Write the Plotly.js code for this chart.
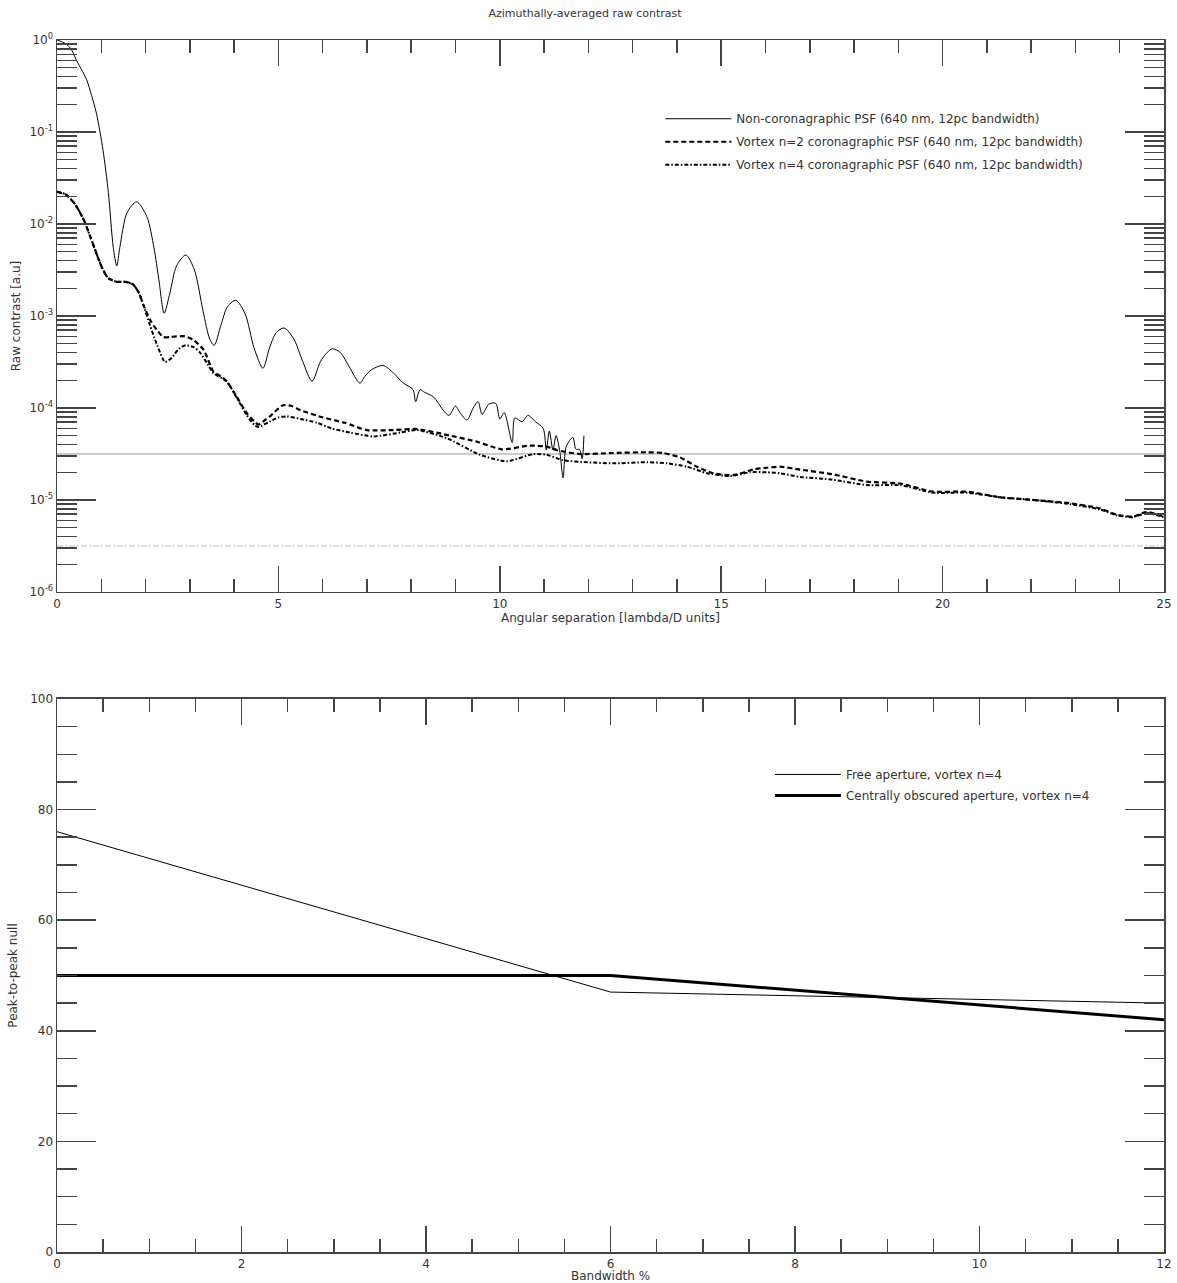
<!DOCTYPE html>
<html>
<head>
<meta charset="utf-8">
<script src="https://cdn.plot.ly/plotly-3.0.1.min.js"></script>
<style>html,body{margin:0;padding:0;background:#fff;}#chart{width:1177px;height:1283px;}</style>
</head>
<body>
<div id="chart"></div>
<script>
// ---- Top panel: azimuthally-averaged raw contrast ----
const psfX = [0,0.2,0.33,0.44,0.55,0.67,0.78,0.89,1.04,1.16,1.27,1.35,1.42,1.58,1.8,2.03,2.19,2.3,2.42,2.55,2.7,2.91,3.1,3.3,3.45,3.55,3.7,3.85,4.04,4.25,4.45,4.65,4.8,4.95,5.13,5.35,5.55,5.76,5.95,6.1,6.22,6.4,6.6,6.84,6.95,7.1,7.36,7.6,7.8,8.04,8.1,8.2,8.3,8.5,8.72,8.85,9.0,9.1,9.26,9.4,9.51,9.6,9.75,9.91,10.0,10.1,10.28,10.34,10.5,10.64,10.8,10.98,11.05,11.12,11.2,11.27,11.35,11.43,11.5,11.65,11.72,11.8,11.86,11.9];
const psfY = [1,0.91,0.78,0.60,0.48,0.37,0.25,0.16,0.063,0.022,5.6e-3,3.5e-3,5.6e-3,1.32e-2,1.74e-2,1.2e-2,5.5e-3,2.5e-3,1.07e-3,1.78e-3,3.5e-3,4.6e-3,3.2e-3,1.12e-3,5.6e-4,4.8e-4,7.9e-4,1.26e-3,1.48e-3,1.05e-3,4.5e-4,2.7e-4,4.5e-4,6.6e-4,7.4e-4,5.6e-4,3.2e-4,1.95e-4,3.2e-4,4.0e-4,4.4e-4,4.0e-4,2.8e-4,1.86e-4,2.2e-4,2.6e-4,2.9e-4,2.4e-4,1.9e-4,1.58e-4,1.17e-4,1.58e-4,1.48e-4,1.32e-4,9.5e-5,8.3e-5,1.05e-4,8.9e-5,7.4e-5,1.0e-4,1.17e-4,8.5e-5,1.1e-4,1.12e-4,7.6e-5,8.9e-5,4.2e-5,7.8e-5,7.1e-5,8.3e-5,7.1e-5,6.0e-5,3.5e-5,5.6e-5,3.5e-5,5.0e-5,3.5e-5,1.74e-5,3.8e-5,4.8e-5,3.55e-5,3.55e-5,2.8e-5,5.0e-5];

const v2X = [0,0.2,0.4,0.6,0.8,1.0,1.15,1.35,1.55,1.72,1.85,1.95,2.1,2.25,2.4,2.55,2.7,2.89,3.08,3.31,3.53,3.7,3.83,4.06,4.29,4.45,4.55,4.7,4.81,5.1,5.3,5.49,6.0,6.5,7.0,7.59,8.13,8.8,9.48,10.05,10.68,11.06,11.3,11.81,12.56,13.32,13.69,14.07,14.45,14.82,15.27,15.72,16.03,16.33,16.78,17.52,18.29,19.04,19.78,20.55,21.3,22.04,22.81,23.55,23.94,24.3,24.6,25];
const v2Y = [0.0224,0.0209,0.0166,0.0112,6.3e-3,3.5e-3,2.6e-3,2.35e-3,2.35e-3,2.2e-3,1.78e-3,1.32e-3,9.1e-4,7.1e-4,5.9e-4,5.9e-4,6.0e-4,6.0e-4,5.5e-4,4.3e-4,2.5e-4,2.2e-4,1.95e-4,1.32e-4,8.7e-5,7.2e-5,6.6e-5,7.4e-5,8.1e-5,1.07e-4,1.05e-4,9.5e-5,7.9e-5,6.9e-5,5.75e-5,5.75e-5,5.9e-5,5.1e-5,4.3e-5,3.55e-5,3.9e-5,3.8e-5,3.47e-5,3.16e-5,3.24e-5,3.3e-5,3.24e-5,2.9e-5,2.3e-5,1.95e-5,1.86e-5,2.14e-5,2.24e-5,2.3e-5,2.14e-5,1.9e-5,1.58e-5,1.51e-5,1.23e-5,1.23e-5,1.07e-5,1.0e-5,9.3e-6,8.1e-6,6.9e-6,6.6e-6,7.4e-6,6.6e-6];

const v4X = [0,0.2,0.4,0.6,0.8,1.0,1.15,1.35,1.55,1.72,1.85,1.95,2.1,2.25,2.44,2.6,2.75,2.91,3.08,3.23,3.4,3.53,3.83,4.06,4.29,4.45,4.55,4.8,5.0,5.19,5.5,5.87,6.2,6.62,7.14,7.75,8.13,8.8,9.55,10.16,10.75,11.06,11.43,11.97,12.56,13.32,13.78,14.23,14.68,15.2,15.65,16.03,16.33,16.78,17.52,18.29,19.04,19.78,20.55,21.3,22.04,22.81,23.55,23.94,24.3,24.6,25];
const v4Y = [0.0224,0.0209,0.0166,0.0112,6.3e-3,3.5e-3,2.6e-3,2.35e-3,2.35e-3,2.2e-3,1.78e-3,1.32e-3,7.9e-4,5.0e-4,3.16e-4,3.55e-4,4.4e-4,4.8e-4,4.6e-4,4.0e-4,3.0e-4,2.4e-4,1.95e-4,1.29e-4,8.3e-5,6.6e-5,6.2e-5,7.1e-5,7.9e-5,8.1e-5,7.6e-5,6.9e-5,6.0e-5,5.4e-5,4.9e-5,5.4e-5,5.75e-5,4.7e-5,3.1e-5,2.63e-5,3.16e-5,3.1e-5,2.7e-5,2.57e-5,2.5e-5,2.57e-5,2.5e-5,2.3e-5,1.95e-5,1.82e-5,2.0e-5,2.0e-5,1.95e-5,1.78e-5,1.66e-5,1.45e-5,1.45e-5,1.2e-5,1.2e-5,1.07e-5,1.0e-5,9.1e-6,7.9e-6,6.8e-6,6.5e-6,7.2e-6,6.5e-6];

const refRangeX = [0, 25];
const refLevelSolid = 3.16e-5;
const refLevelDotted = 3.16e-6;

const topNames = ["Non-coronagraphic PSF (640 nm, 12pc bandwidth)",
                  "Vortex n=2 coronagraphic PSF (640 nm, 12pc bandwidth)",
                  "Vortex n=4 coronagraphic PSF (640 nm, 12pc bandwidth)"];
const logExponents = [0,-1,-2,-3,-4,-5,-6];

// ---- Bottom panel: peak-to-peak null vs bandwidth ----
const freeX = [0, 4, 6, 12];
const freeY = [76, 56.6, 47, 45];
const obscX = [0, 6, 12];
const obscY = [50, 50, 42];
const bottomNames = ["Free aperture, vortex n=4", "Centrally obscured aperture, vortex n=4"];

// ticks
const majorVals = logExponents.map(e => Math.pow(10, e));
const majorText = logExponents.map(e => '10<sup>' + e + '</sup>');
const minorVals = [];
for (let e = -6; e < 0; e++) for (let m = 2; m <= 9; m++) minorVals.push(m * Math.pow(10, e));

const axCol = '#444';
const FONT = 'DejaVu Sans, sans-serif';

const traces = [
  {x: refRangeX, y: [refLevelSolid, refLevelSolid], xaxis:'x', yaxis:'y', mode:'lines', line:{color:'#999', width:1}, showlegend:false, hoverinfo:'skip'},
  {x: refRangeX, y: [refLevelDotted, refLevelDotted], xaxis:'x', yaxis:'y', mode:'lines', line:{color:'#bbb', width:1, dash:'6px,2px,2px,2px'}, showlegend:false, hoverinfo:'skip'},
  {x: psfX, y: psfY, xaxis:'x', yaxis:'y', mode:'lines', name: topNames[0], legendgroup:'a', line:{color:'#000', width:1, shape:'spline', smoothing:0.8}, legend:'legend'},
  {x: v2X, y: v2Y, xaxis:'x', yaxis:'y', mode:'lines', name: topNames[1], legendgroup:'b', line:{color:'#000', width:2.2, dash:'5px,3px', shape:'spline', smoothing:0.6}, legend:'legend'},
  {x: v4X, y: v4Y, xaxis:'x', yaxis:'y', mode:'lines', name: topNames[2], legendgroup:'c', line:{color:'#000', width:2, dash:'4px,2px,1.5px,2px', shape:'spline', smoothing:0.6}, legend:'legend'},
  {x: freeX, y: freeY, xaxis:'x2', yaxis:'y2', mode:'lines', name: bottomNames[0], legendgroup:'d', line:{color:'#000', width:1}, legend:'legend2'},
  {x: obscX, y: obscY, xaxis:'x2', yaxis:'y2', mode:'lines', name: bottomNames[1], legendgroup:'e', line:{color:'#000', width:3}, legend:'legend2'}
];

const baseAxis = {
  showgrid:false, zeroline:false, showline:true, linecolor:axCol, linewidth:1.5,
  mirror:'ticks', ticks:'inside', tickcolor:axCol, tickwidth:1.5,
  tickfont:{family:FONT, size:12, color:'#333'},
  title:{font:{family:FONT, size:12, color:'#333'}}
};

const layout = {
  width:1177, height:1283,
  paper_bgcolor:'#fff', plot_bgcolor:'#fff',
  margin:{l:57, r:13, t:40, b:31},
  font:{family:FONT, color:'#333'},
  title:{text:'Azimuthally-averaged raw contrast', font:{family:FONT, size:11, color:'#333'}, x:0.497, xanchor:'center', y:0.99, yanchor:'middle'},
  xaxis: Object.assign({}, baseAxis, {
    domain:[0,1], anchor:'y', range:[0,25], tickmode:'linear', tick0:0, dtick:5, ticklen:26,
    minor:{dtick:1, tick0:0, ticklen:13, ticks:'inside', tickcolor:axCol, tickwidth:1.5},
    title:{text:'Angular separation [lambda/D units]', font:{family:FONT, size:12, color:'#333'}, standoff:2}
  }),
  yaxis: Object.assign({}, baseAxis, {
    domain:[0.5446,1], anchor:'x', type:'log', range:[-6,0],
    tickmode:'array', tickvals:majorVals, ticktext:majorText, ticklen:39,
    minor:{tickmode:'array', tickvals:minorVals, ticklen:20, ticks:'inside', tickcolor:axCol, tickwidth:1.5},
    title:{text:'Raw contrast [a.u]', font:{family:FONT, size:12, color:'#333'}, standoff:6}
  }),
  xaxis2: Object.assign({}, baseAxis, {
    domain:[0,1], anchor:'y2', range:[0,12], tickmode:'linear', tick0:0, dtick:2, ticklen:26,
    minor:{dtick:0.5, tick0:0, ticklen:13, ticks:'inside', tickcolor:axCol, tickwidth:1.5},
    title:{text:'Bandwidth %', font:{family:FONT, size:12, color:'#333'}, standoff:2}
  }),
  yaxis2: Object.assign({}, baseAxis, {
    domain:[0,0.4563], anchor:'x2', range:[0,100], tickmode:'linear', tick0:0, dtick:20, ticklen:39,
    minor:{dtick:5, tick0:0, ticklen:20, ticks:'inside', tickcolor:axCol, tickwidth:1.5},
    title:{text:'Peak-to-peak null', font:{family:FONT, size:12, color:'#333'}, standoff:10}
  }),
  legend:{x:0.545, y:0.947, xanchor:'left', yanchor:'top', bgcolor:'rgba(0,0,0,0)', borderwidth:0,
          font:{family:FONT, size:12, color:'#333'}, itemwidth:66, tracegroupgap:4},
  legend2:{x:0.644, y:0.406, xanchor:'left', yanchor:'top', bgcolor:'rgba(0,0,0,0)', borderwidth:0,
          font:{family:FONT, size:12, color:'#333'}, itemwidth:66, tracegroupgap:2},
  showlegend:true
};

Plotly.newPlot('chart', traces, layout, {displayModeBar:false, staticPlot:true});
</script>
</body>
</html>
